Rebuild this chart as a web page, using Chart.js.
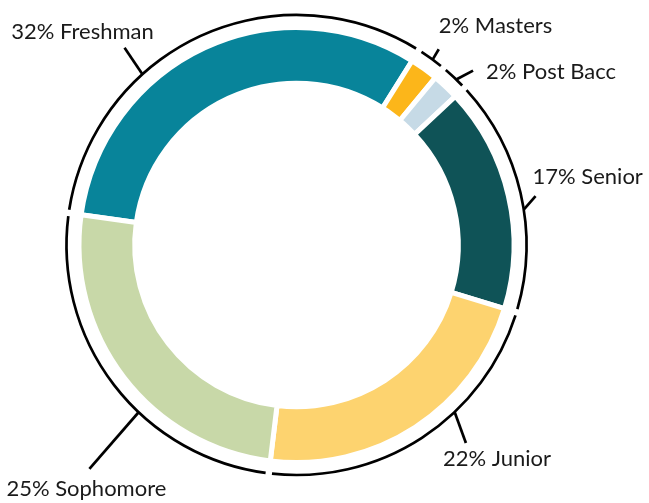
<!DOCTYPE html>
<html>
<head>
<meta charset="utf-8">
<script src="https://cdn.jsdelivr.net/npm/chart.js@4.4.0/dist/chart.umd.min.js"></script>
<style>
  html, body { margin: 0; padding: 0; background: #fff; }
  #wrap { width: 649px; height: 503px; position: relative; }
</style>
</head>
<body>
<div id="wrap"><canvas id="chart"></canvas></div>
<script>
// class levels, clockwise from the left
const levels = ['Freshman', 'Masters', 'Post Bacc', 'Senior', 'Junior', 'Sophomore'];
const shares = [31.7, 2.1, 2.0, 16.7, 22.2, 25.3];
const colours = ['#08849a', '#fcb61a', '#c6dae6', '#0f5357', '#fdd36f', '#c8d8a8'];

// leader ticks: where on the arc (0..1), direction (deg from top), length, label offset
const tickAt = [0.35, 0.55, 0.6, 0.57, 0.37, 0.40];
const tickDir = [326, 31, 62, 41, 160, 221];
const tickLen = [32, 12, 19, 18, 33, 75];
const labelOff = [[-42, -16, 'center'], [0, -23, 'left'], [13, 1, 'left'], [-3, -19, 'left'], [-23, 16, 'left'], [-83, 20, 'left']];

const outerRing = {
  id: 'outerRing',
  afterDatasetsDraw(chart) {
    const ctx = chart.ctx;
    const meta = chart.getDatasetMeta(0);
    ctx.save();
    ctx.strokeStyle = '#000';
    ctx.lineWidth = 2.7;
    ctx.fillStyle = '#1a1a1a';
    ctx.font = '22px Lato';
    ctx.textBaseline = 'middle';
    meta.data.forEach((arc, i) => {
      const p = arc.getProps(['x', 'y', 'startAngle', 'endAngle', 'outerRadius'], true);
      const R = p.outerRadius + 12.5;
      const gap = 3.2 / R;
      ctx.beginPath();
      ctx.arc(p.x, p.y, R, p.startAngle + gap, p.endAngle - gap);
      ctx.stroke();

      // tick from the arc outwards
      const a = p.startAngle + tickAt[i] * (p.endAngle - p.startAngle);
      const px = p.x + R * Math.cos(a);
      const py = p.y + R * Math.sin(a);
      const d = tickDir[i] * Math.PI / 180;
      const ex = px + tickLen[i] * Math.sin(d);
      const ey = py - tickLen[i] * Math.cos(d);
      ctx.beginPath();
      ctx.moveTo(px, py);
      ctx.lineTo(ex, ey);
      ctx.stroke();

      ctx.textAlign = labelOff[i][2];
      ctx.fillText(Math.round(shares[i]) + '% ' + levels[i], ex + labelOff[i][0], ey + labelOff[i][1]);
    });
    ctx.restore();
  }
};

new Chart(document.getElementById('chart'), {
  type: 'doughnut',
  data: {
    labels: levels,
    datasets: [{
      data: shares,
      backgroundColor: colours,
      borderColor: '#fff',
      borderWidth: 5,
      hoverOffset: 0
    }]
  },
  options: {
    responsive: true,
    maintainAspectRatio: false,
    animation: false,
    rotation: -82,
    radius: 217.5,
    cutout: 165.5,
    layout: { padding: { left: 40, right: 96, top: 20, bottom: 33 } },
    plugins: {
      legend: { display: false },
      tooltip: { enabled: false }
    }
  },
  plugins: [outerRing]
});
</script>
</body>
</html>
